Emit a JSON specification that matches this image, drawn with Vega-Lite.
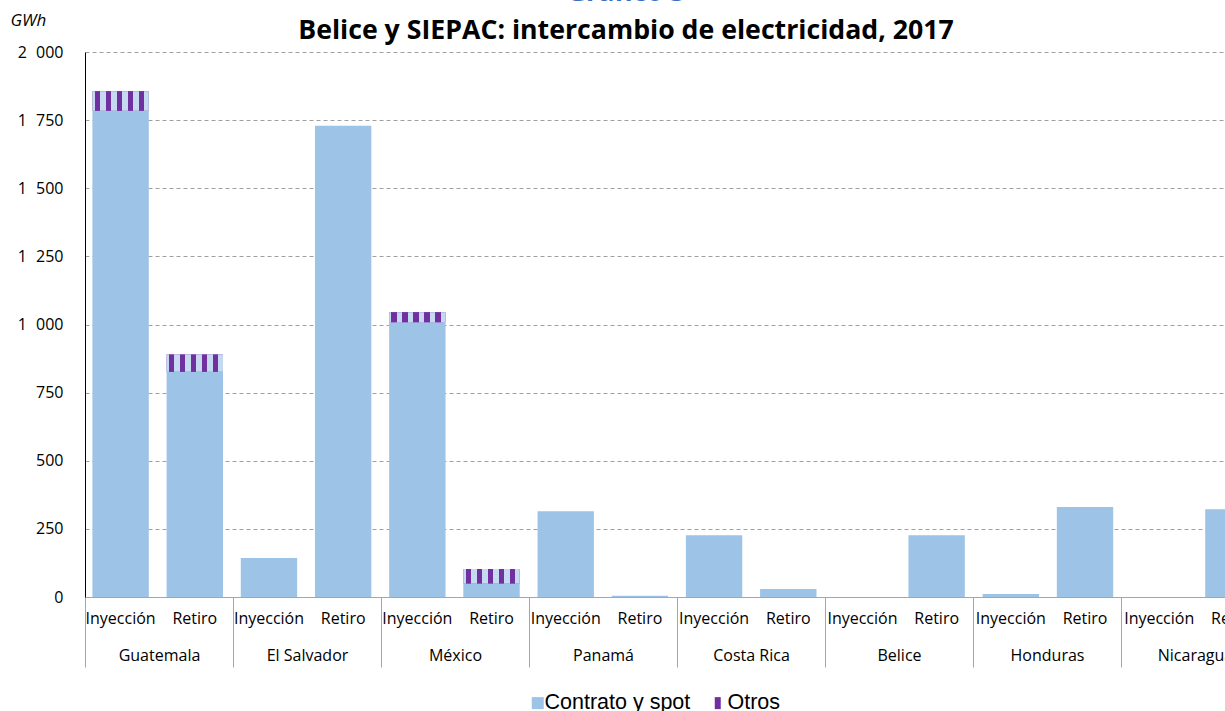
{
  "$schema": "https://vega.github.io/schema/vega-lite/v6.json",
  "width": 1184,
  "height": 545,
  "autosize": {"type": "none"},
  "padding": {"left": 85, "top": 52, "right": 0, "bottom": 114},
  "background": "white",
  "config": {"view": {"stroke": null}, "font": "Open Sans"},
  "title": {
    "text": "Gráfico 3",
    "subtitle": "Belice y SIEPAC: intercambio de electricidad, 2017",
    "anchor": "middle",
    "dx": -51,
    "font": "Open Sans",
    "fontSize": 26.7,
    "fontWeight": "bold",
    "color": "#3b6fc2",
    "subtitleFont": "Open Sans",
    "subtitleFontSize": 26.7,
    "subtitleFontWeight": "bold",
    "subtitleColor": "#000000",
    "subtitlePadding": 12,
    "offset": -34
  },
  "data": {
    "values": [
      {"pais": "Guatemala", "tipo": "Inyección", "key": "Guatemala|Inyección", "serie": "Contrato y spot", "orden": 1, "valor": 1784},
      {"pais": "Guatemala", "tipo": "Inyección", "key": "Guatemala|Inyección", "serie": "Otros", "orden": 2, "valor": 72},
      {"pais": "Guatemala", "tipo": "Retiro", "key": "Guatemala|Retiro", "serie": "Contrato y spot", "orden": 1, "valor": 827},
      {"pais": "Guatemala", "tipo": "Retiro", "key": "Guatemala|Retiro", "serie": "Otros", "orden": 2, "valor": 63},
      {"pais": "El Salvador", "tipo": "Inyección", "key": "El Salvador|Inyección", "serie": "Contrato y spot", "orden": 1, "valor": 143},
      {"pais": "El Salvador", "tipo": "Retiro", "key": "El Salvador|Retiro", "serie": "Contrato y spot", "orden": 1, "valor": 1729},
      {"pais": "México", "tipo": "Inyección", "key": "México|Inyección", "serie": "Contrato y spot", "orden": 1, "valor": 1008},
      {"pais": "México", "tipo": "Inyección", "key": "México|Inyección", "serie": "Otros", "orden": 2, "valor": 37},
      {"pais": "México", "tipo": "Retiro", "key": "México|Retiro", "serie": "Contrato y spot", "orden": 1, "valor": 50},
      {"pais": "México", "tipo": "Retiro", "key": "México|Retiro", "serie": "Otros", "orden": 2, "valor": 53},
      {"pais": "Panamá", "tipo": "Inyección", "key": "Panamá|Inyección", "serie": "Contrato y spot", "orden": 1, "valor": 315},
      {"pais": "Panamá", "tipo": "Retiro", "key": "Panamá|Retiro", "serie": "Contrato y spot", "orden": 1, "valor": 5},
      {"pais": "Costa Rica", "tipo": "Inyección", "key": "Costa Rica|Inyección", "serie": "Contrato y spot", "orden": 1, "valor": 227},
      {"pais": "Costa Rica", "tipo": "Retiro", "key": "Costa Rica|Retiro", "serie": "Contrato y spot", "orden": 1, "valor": 29},
      {"pais": "Belice", "tipo": "Inyección", "key": "Belice|Inyección", "serie": "Contrato y spot", "orden": 1, "valor": 0},
      {"pais": "Belice", "tipo": "Retiro", "key": "Belice|Retiro", "serie": "Contrato y spot", "orden": 1, "valor": 227},
      {"pais": "Honduras", "tipo": "Inyección", "key": "Honduras|Inyección", "serie": "Contrato y spot", "orden": 1, "valor": 11},
      {"pais": "Honduras", "tipo": "Retiro", "key": "Honduras|Retiro", "serie": "Contrato y spot", "orden": 1, "valor": 330},
      {"pais": "Nicaragua", "tipo": "Inyección", "key": "Nicaragua|Inyección", "serie": "Contrato y spot", "orden": 1, "valor": 0},
      {"pais": "Nicaragua", "tipo": "Retiro", "key": "Nicaragua|Retiro", "serie": "Contrato y spot", "orden": 1, "valor": 322}
    ]
  },
  "layer": [
    {
      "mark": {"type": "bar"},
      "encoding": {
        "x": {
          "field": "key",
          "type": "nominal",
          "scale": {
            "domain": ["Guatemala|Inyección", "Guatemala|Retiro", "El Salvador|Inyección", "El Salvador|Retiro", "México|Inyección", "México|Retiro", "Panamá|Inyección", "Panamá|Retiro", "Costa Rica|Inyección", "Costa Rica|Retiro", "Belice|Inyección", "Belice|Retiro", "Honduras|Inyección", "Honduras|Retiro", "Nicaragua|Inyección", "Nicaragua|Retiro"],
            "paddingInner": 0.24,
            "paddingOuter": 0.1
          },
          "axis": {
            "orient": "bottom",
            "title": null,
            "domain": false,
            "ticks": false,
            "labelAngle": 0,
            "labelExpr": "split(datum.label, '|')[1]",
            "labelFont": "Open Sans",
            "labelFontSize": 16,
            "labelColor": "#000000",
            "labelPadding": 13
          }
        },
        "y": {
          "field": "valor",
          "type": "quantitative",
          "stack": "zero",
          "scale": {"domain": [0, 2000], "nice": false},
          "axis": {
            "title": "GWh",
            "titleAngle": 0,
            "titleFontStyle": "italic",
            "titleFontWeight": "normal",
            "titleFont": "Open Sans",
            "titleFontSize": 17,
            "titleAlign": "left",
            "titleBaseline": "alphabetic",
            "titleX": -75,
            "titleY": -27,
            "titleColor": "#000000",
            "values": [0, 250, 500, 750, 1000, 1250, 1500, 1750, 2000],
            "labelExpr": "replace(format(datum.value, ','), ',', '\u2007')",
            "labelFont": "Open Sans",
            "labelFontSize": 16,
            "labelColor": "#000000",
            "labelPadding": 22,
            "ticks": false,
            "domainColor": "#000000",
            "gridColor": "#a0a0a0",
            "gridDash": [4, 3]
          }
        },
        "color": {
          "field": "serie",
          "type": "nominal",
          "scale": {
            "domain": ["Contrato y spot", "Otros"],
            "range": ["#9dc3e6", "#7030a0"]
          },
          "legend": {
            "title": null,
            "orient": "none",
            "legendX": 442,
            "legendY": 640,
            "direction": "horizontal",
            "symbolType": "square",
            "symbolSize": 144,
            "symbolStrokeWidth": 0,
            "labelFont": "Liberation Sans",
            "labelFontSize": 21.5,
            "labelColor": "#000000",
            "columnPadding": 19,
            "labelOffset": -4,
            "encode": {
              "symbols": {
                "update": {
                  "shape": [
                    {"test": "datum.value === 'Otros'", "value": "M-1,-1H0V1H-1Z"},
                    {"value": "square"}
                  ]
                }
              }
            }
          }
        },
        "order": {"field": "orden", "type": "quantitative"}
      }
    },
    {
      "transform": [
        {"stack": "valor", "groupby": ["key"], "sort": [{"field": "orden", "order": "ascending"}], "as": ["v0", "v1"]},
        {"filter": "datum.serie === 'Otros'"}
      ],
      "mark": {
        "type": "bar",
        "fill": {
          "gradient": "linear",
          "x1": 0, "y1": 0, "x2": 1, "y2": 0,
          "stops": [
            {"offset": 0, "color": "#c5daf0"},
            {"offset": 0.04, "color": "#c5daf0"},
            {"offset": 0.04, "color": "#7030a0"},
            {"offset": 0.137, "color": "#7030a0"},
            {"offset": 0.137, "color": "#c5daf0"},
            {"offset": 0.235, "color": "#c5daf0"},
            {"offset": 0.235, "color": "#7030a0"},
            {"offset": 0.332, "color": "#7030a0"},
            {"offset": 0.332, "color": "#c5daf0"},
            {"offset": 0.43, "color": "#c5daf0"},
            {"offset": 0.43, "color": "#7030a0"},
            {"offset": 0.527, "color": "#7030a0"},
            {"offset": 0.527, "color": "#c5daf0"},
            {"offset": 0.625, "color": "#c5daf0"},
            {"offset": 0.625, "color": "#7030a0"},
            {"offset": 0.722, "color": "#7030a0"},
            {"offset": 0.722, "color": "#c5daf0"},
            {"offset": 0.82, "color": "#c5daf0"},
            {"offset": 0.82, "color": "#7030a0"},
            {"offset": 0.917, "color": "#7030a0"},
            {"offset": 0.917, "color": "#c5daf0"},
            {"offset": 1, "color": "#c5daf0"}
          ]
        }
      },
      "encoding": {
        "x": {
          "field": "key",
          "type": "nominal",
          "scale": {
            "domain": ["Guatemala|Inyección", "Guatemala|Retiro", "El Salvador|Inyección", "El Salvador|Retiro", "México|Inyección", "México|Retiro", "Panamá|Inyección", "Panamá|Retiro", "Costa Rica|Inyección", "Costa Rica|Retiro", "Belice|Inyección", "Belice|Retiro", "Honduras|Inyección", "Honduras|Retiro", "Nicaragua|Inyección", "Nicaragua|Retiro"],
            "paddingInner": 0.24,
            "paddingOuter": 0.1
          },
          "axis": null
        },
        "y": {"field": "v1", "type": "quantitative"},
        "y2": {"field": "v0"}
      }
    },
    {
      "mark": {"type": "tick", "opacity": 0},
      "encoding": {
        "x": {
          "field": "pais",
          "type": "nominal",
          "scale": {
            "domain": ["Guatemala", "El Salvador", "México", "Panamá", "Costa Rica", "Belice", "Honduras", "Nicaragua"],
            "paddingInner": 0,
            "paddingOuter": 0
          },
          "axis": {
            "orient": "bottom",
            "title": null,
            "labelAngle": 0,
            "domainColor": "#a6a6a6",
            "tickColor": "#a6a6a6",
            "tickBand": "extent",
            "tickSize": 70,
            "labelPadding": -20,
            "labelFont": "Open Sans",
            "labelFontSize": 16,
            "labelColor": "#000000"
          }
        },
        "y": {"datum": 0, "type": "quantitative"}
      }
    }
  ],
  "resolve": {"scale": {"x": "independent"}, "axis": {"x": "independent"}}
}
